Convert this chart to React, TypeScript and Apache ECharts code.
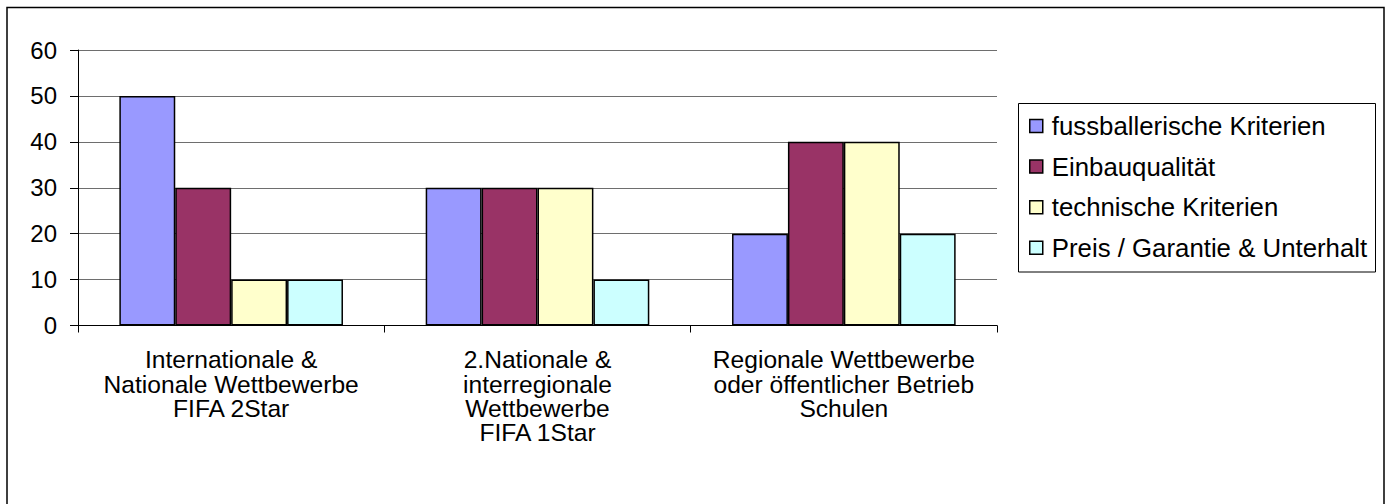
import React, { useEffect, useRef } from "react";
import * as echarts from "echarts";

const categories = [
  "Internationale &\nNationale Wettbewerbe\nFIFA 2Star",
  "2.Nationale &\ninterregionale\nWettbewerbe\nFIFA 1Star",
  "Regionale Wettbewerbe\noder öffentlicher Betrieb\nSchulen",
];
const seriesNames = [
  "fussballerische Kriterien",
  "Einbauqualität",
  "technische Kriterien",
  "Preis / Garantie & Unterhalt",
];
const fussball = [50, 30, 20];
const einbau = [30, 30, 40];
const technisch = [10, 30, 40];
const preis = [10, 10, 20];
const colors = ["#9999FF", "#993366", "#FFFFCC", "#CCFFFF"];
const yTicks = { min: 0, max: 60, interval: 10 };

const FONT = "'Liberation Sans', Arial, sans-serif";

export default function App() {
  const ref = useRef<HTMLDivElement>(null);
  useEffect(() => {
    if (!ref.current) return;
    const chart = echarts.init(ref.current, null, { renderer: "svg" });
    const values = [fussball, einbau, technisch, preis];
    chart.setOption({
      animation: false,
      backgroundColor: "#ffffff",
      textStyle: { fontFamily: FONT },
      grid: { left: 78, right: 395, top: 50, bottom: 178.5, containLabel: false },
      graphic: [
        {
          type: "rect",
          shape: { x: 7, y: 7.5, width: 1377, height: 520 },
          style: { fill: "none", stroke: "#000", lineWidth: 1.5 },
          silent: true,
        },
        {
          type: "rect",
          shape: { x: 1018.5, y: 103.5, width: 357, height: 168.5 },
          style: { fill: "#fff", stroke: "#000", lineWidth: 1 },
          silent: true,
          z: -1,
        },
      ],
      legend: {
        orient: "vertical",
        left: 1029,
        top: 113,
        padding: 0,
        itemGap: 14.6,
        itemWidth: 13,
        itemHeight: 13,
        icon: "rect",
        itemStyle: { borderColor: "#000", borderWidth: 1.5 },
        textStyle: {
          fontFamily: FONT,
          fontSize: 25.8,
          color: "#000",
          lineHeight: 25,
          padding: [0, 0, 0, 4],
        },
        data: seriesNames,
      },
      xAxis: {
        type: "category",
        data: categories,
        axisLine: { lineStyle: { color: "#000", width: 1 } },
        axisTick: { show: true, length: 7, alignWithLabel: false, lineStyle: { color: "#000" } },
        axisLabel: {
          interval: 0,
          fontFamily: FONT,
          fontSize: 24.6,
          lineHeight: 24.4,
          color: "#000",
          margin: 22,
          align: "center",
        },
      },
      yAxis: {
        type: "value",
        min: yTicks.min,
        max: yTicks.max,
        interval: yTicks.interval,
        axisLine: { show: true, lineStyle: { color: "#000", width: 1 } },
        axisTick: { show: true, length: 8, lineStyle: { color: "#000" } },
        splitLine: { show: true, lineStyle: { color: "#6e6e6e", width: 1.2 } },
        axisLabel: { fontFamily: FONT, fontSize: 24, color: "#000", margin: 21 },
      },
      series: seriesNames.map((name, i) => ({
        name,
        type: "bar",
        data: values[i],
        barGap: "0%",
        barCategoryGap: "27%",
        itemStyle: { color: colors[i], borderColor: "#000", borderWidth: 1.5 },
      })),
    });
    return () => chart.dispose();
  }, []);
  return (
    <div
      ref={ref}
      style={{ position: "absolute", left: 0, top: 0, width: 1392, height: 504 }}
    />
  );
}
